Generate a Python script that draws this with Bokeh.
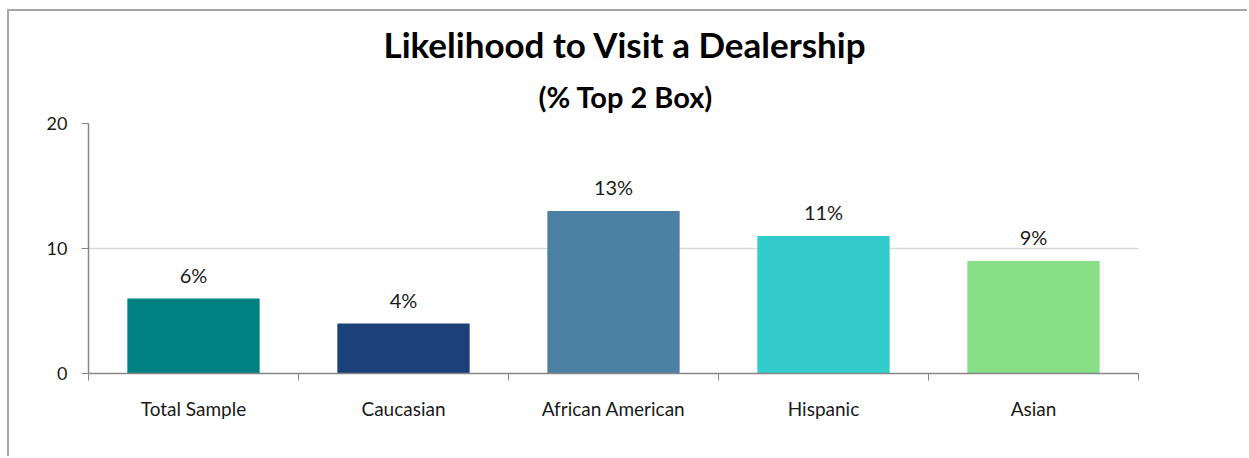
from bokeh.plotting import figure
from bokeh.models import ColumnDataSource, FixedTicker, Title, LabelSet, Range1d
from bokeh.core.properties import value
from bokeh.embed import file_html
from bokeh.resources import INLINE

categories = ["Total Sample", "Caucasian", "African American", "Hispanic", "Asian"]
values = [6, 4, 13, 11, 9]
labels = ["6%", "4%", "13%", "11%", "9%"]
colors = ["#008080", "#1C4079", "#4B80A4", "#33CCCC", "#88DF88"]
y_ticks = [0, 10, 20]
title_text = "Likelihood to Visit a Dealership"
subtitle_text = "(% Top 2 Box)"

xs = [i + 0.5 for i in range(len(categories))]
src = ColumnDataSource(dict(x=xs, top=values, label=labels, color=colors))

FONT = "Lato"

p = figure(width=1240, height=447, output_backend="svg", toolbar_location=None,
           x_range=Range1d(0, len(categories)), y_range=Range1d(0, 20),
           min_border_left=79, min_border_right=111, min_border_bottom=85, min_border_top=112)
p.styles = {"margin-left": "7px", "margin-top": "9px",
            "border-left": "2px solid #a6a6a6", "border-top": "2px solid #a6a6a6"}
p.outline_line_color = None
p.background_fill_color = "white"
p.border_fill_color = "white"

p.vbar(x="x", top="top", width=0.63, color="color", source=src, line_color=None)

lbl = LabelSet(x="x", y="top", text="label", source=src, text_align="center",
               text_baseline="bottom", y_offset=12, text_font=value(FONT), text_font_size="20px",
               text_color="#1a1a1a")
p.add_layout(lbl)

# axes
xa = p.xaxis[0]
xa.ticker = FixedTicker(ticks=xs, minor_ticks=list(range(len(categories) + 1)))
xa.major_label_overrides = {x: c for x, c in zip(xs, categories)}
xa.major_tick_out = 0
xa.major_tick_in = 0
xa.minor_tick_out = 7
xa.minor_tick_in = 0
xa.minor_tick_line_color = "#868686"
xa.axis_line_color = "#868686"
xa.axis_line_width = 1.5
xa.major_label_standoff = 16
xa.major_label_text_font = FONT
xa.major_label_text_font_size = "19px"
xa.major_label_text_color = "#1a1a1a"

ya = p.yaxis[0]
ya.ticker = FixedTicker(ticks=y_ticks)
ya.minor_tick_line_color = None
ya.major_tick_out = 7
ya.major_tick_in = 0
ya.major_tick_line_color = "#868686"
ya.axis_line_color = "#868686"
ya.axis_line_width = 1.5
ya.major_label_standoff = 14
ya.major_label_text_font = FONT
ya.major_label_text_font_size = "18px"
ya.major_label_text_color = "#1a1a1a"

p.xgrid.grid_line_color = None
p.ygrid.grid_line_color = "#d9d9d9"
p.ygrid.grid_line_width = 1.5

sub = Title(text=subtitle_text, align="left", text_font=FONT, text_font_size="29px",
            text_font_style="bold", text_color="black", offset=450, standoff=20)
main = Title(text=title_text, align="left", text_font=FONT,
             text_font_size="35px", text_font_style="bold", text_color="black", offset=295,
             standoff=3)
p.add_layout(sub, "above")
p.add_layout(main, "above")

open("out.html", "w").write(file_html(p, INLINE))
